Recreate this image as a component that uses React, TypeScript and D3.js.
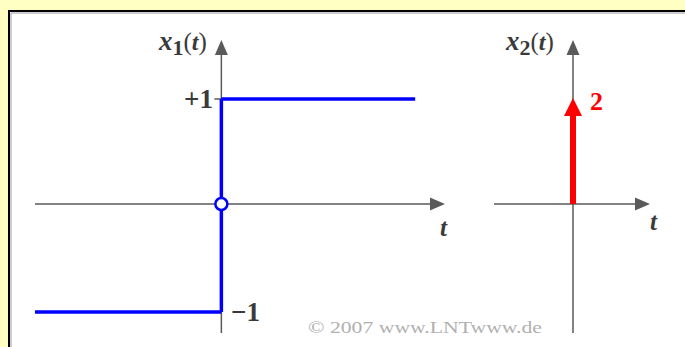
import React from "react";
import * as d3 from "d3";

// Signal x1(t): sign-like step, value -1 for t<0, +1 for t>0, open point at t=0
const x1Segments = [
  { t0: -1, t1: 0, v: -1 },
  { t0: 0, t1: 1.04, v: 1 },
];
const x1Jump = { t: 0, from: -1, to: 1 };
const x1Hole = { t: 0, v: 0 };
const x1Ticks = [
  { v: 1, label: "+1" },
  { v: -1, label: "\u22121" },
];

// Signal x2(t): Dirac impulse with weight 2 at t=0
const x2Impulses = [{ t: 0, w: 2 }];

const W = 685;
const H = 347;
const AXIS = "#5a5a5a";
const BLUE = "#0000ff";
const RED = "#ff0000";
const FONT = "'Liberation Serif', 'DejaVu Serif', serif";
const LABEL = "#3a3a3a";

function ArrowHead({ x, y, dir, size = 15, half = 6.5 }: { x: number; y: number; dir: "up" | "right"; size?: number; half?: number }) {
  const pts =
    dir === "up"
      ? [[x, y], [x - half, y + size], [x + half, y + size]]
      : [[x, y], [x - size, y - half], [x - size, y + half]];
  return <polygon points={pts.map((p) => p.join(",")).join(" ")} fill={AXIS} />;
}

function FuncLabel({ x, y, sub }: { x: number; y: number; sub: string }) {
  return (
    <text x={x} y={y} fontFamily={FONT} fontStyle="italic" fontWeight="bold" fontSize={27} fill={LABEL}>
      x
      <tspan dy={5} fontStyle="normal" fontSize={22}>{sub}</tspan>
      <tspan dy={-5} fontStyle="normal" fontWeight="normal" fontSize={25}>(</tspan>
      <tspan fontSize={24}>t</tspan>
      <tspan fontStyle="normal" fontWeight="normal" fontSize={25}>)</tspan>
    </text>
  );
}

export default function App() {
  // left panel scales
  const xL = d3.scaleLinear().domain([-1, 1.2]).range([35, 445]);
  const yL = d3.scaleLinear().domain([-1, 1]).range([312, 99]);
  const axisYL = 204;
  const x0L = xL(0);

  // right panel scales
  const xR = d3.scaleLinear().domain([-1, 1]).range([494, 650]);
  const yR = d3.scaleLinear().domain([0, 2]).range([204, 98]);
  const x0R = 573;

  const line = d3
    .line<[number, number]>()
    .x((d) => d[0])
    .y((d) => d[1]);

  return (
    <svg
      width={W}
      height={H}
      viewBox={`0 0 ${W} ${H}`}
      style={{ position: "absolute", left: 0, top: 0, display: "block" }}
    >
      <rect x={0} y={0} width={W} height={H} fill="#ffffc4" />
      <rect x={9} y={11} width={W + 10} height={H + 10} fill="#ffffff" stroke="#000" strokeWidth={2} />
      <line x1={11} y1={13} x2={W} y2={13} stroke="#9a9a9a" strokeWidth={1} />
      <line x1={11} y1={13} x2={11} y2={H} stroke="#9a9a9a" strokeWidth={1} />

      {/* left panel axes */}
      <line x1={xL(-1)} y1={axisYL} x2={xL(1.2) - 12} y2={axisYL} stroke={AXIS} strokeWidth={1.5} />
      <ArrowHead x={xL(1.2)} y={axisYL} dir="right" />
      <line x1={x0L} y1={333} x2={x0L} y2={52} stroke={AXIS} strokeWidth={1.5} />
      <ArrowHead x={x0L} y={40} dir="up" />
      {x1Ticks.map((tk) => (
        <line key={tk.label} x1={x0L - 7} y1={yL(tk.v)} x2={x0L} y2={yL(tk.v)} stroke={AXIS} strokeWidth={1.5} />
      ))}

      {/* x1(t) */}
      {x1Segments.map((s, i) => (
        <path
          key={i}
          d={line([[xL(s.t0), yL(s.v)], [xL(s.t1), yL(s.v)]]) || ""}
          stroke={BLUE}
          strokeWidth={3.5}
          fill="none"
        />
      ))}
      <path
        d={line([[xL(x1Jump.t), yL(x1Jump.from)], [xL(x1Jump.t), yL(x1Jump.to)]]) || ""}
        stroke={BLUE}
        strokeWidth={3.5}
        fill="none"
      />
      <circle cx={xL(x1Hole.t)} cy={axisYL} r={6} fill="#fff" stroke={BLUE} strokeWidth={2.5} />

      {/* left labels */}
      <FuncLabel x={159} y={50} sub="1" />
      <text x={213} y={yL(1) + 9} textAnchor="end" fontFamily={FONT} fontWeight="bold" fontSize={27} fill={LABEL}>
        {x1Ticks[0].label}
      </text>
      <text x={231} y={yL(-1) + 9} fontFamily={FONT} fontWeight="bold" fontSize={27} fill={LABEL}>
        {x1Ticks[1].label}
      </text>
      <text x={440} y={236} fontFamily={FONT} fontStyle="italic" fontWeight="bold" fontSize={25} fill={LABEL}>
        t
      </text>

      {/* right panel axes */}
      <line x1={xR(-1)} y1={204} x2={xR(1) - 12} y2={204} stroke={AXIS} strokeWidth={1.5} />
      <ArrowHead x={xR(1)} y={204} dir="right" />
      <line x1={x0R} y1={333} x2={x0R} y2={52} stroke={AXIS} strokeWidth={1.5} />
      <ArrowHead x={x0R} y={40} dir="up" />

      {/* x2(t) impulse */}
      {x2Impulses.map((d, i) => (
        <g key={i}>
          <line x1={x0R + d.t} y1={yR(0)} x2={x0R + d.t} y2={yR(d.w) + 16} stroke={RED} strokeWidth={6} />
          <polygon
            points={`${x0R},${yR(d.w)} ${x0R - 9},${yR(d.w) + 18} ${x0R + 9},${yR(d.w) + 18}`}
            fill={RED}
          />
          <text x={590} y={yR(d.w) + 12} fontFamily={FONT} fontWeight="bold" fontSize={26} fill={RED}>
            {d.w}
          </text>
        </g>
      ))}

      {/* right labels */}
      <FuncLabel x={506} y={50} sub="2" />
      <text x={650} y={230} fontFamily={FONT} fontStyle="italic" fontWeight="bold" fontSize={25} fill={LABEL}>
        t
      </text>

      <text
        x={308}
        y={333}
        fontFamily={FONT}
        fontSize={17}
        fill="#b0b0b0"
        textLength={234}
        lengthAdjust="spacingAndGlyphs"
      >
        © 2007 www.LNTwww.de
      </text>
    </svg>
  );
}
